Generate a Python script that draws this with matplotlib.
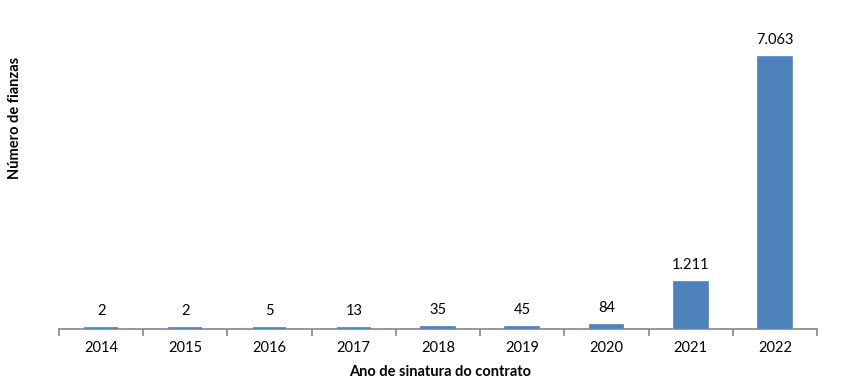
import matplotlib
matplotlib.use("Agg")
import matplotlib.pyplot as plt
import numpy as np

years = ["2014", "2015", "2016", "2017", "2018", "2019", "2020", "2021", "2022"]
values = [2, 2, 5, 13, 35, 45, 84, 1211, 7063]
value_labels = ["2", "2", "5", "13", "35", "45", "84", "1.211", "7.063"]

plt.rcParams['font.family'] = ['Lato', 'DejaVu Sans']

fig = plt.figure(figsize=(8.47, 3.84), dpi=100)
ax = fig.add_axes([59/847, 1-329/384, (817-59)/847, (329-21)/384])

x = np.arange(len(years))
bars = ax.bar(x, values, width=0.4, color="#4F81BD", edgecolor="#4F81BD",
              linewidth=1.2, zorder=3)
ax.set_xlim(-0.5, len(years)-0.5)
ax.set_ylim(-20, 8000)

for xi, v, lab in zip(x, values, value_labels):
    ax.annotate(lab, (xi, v), xytext=(0, 7), textcoords="offset points",
                ha="center", va="bottom", fontsize=10.5, color="#000000")

for s in ["top", "right", "left"]:
    ax.spines[s].set_visible(False)
ax.spines["bottom"].set_color("#868686")
ax.spines["bottom"].set_linewidth(1.2)
ax.spines["bottom"].set_zorder(2)
ax.set_yticks([])
ax.set_xticks(np.arange(len(years)+1) - 0.5, minor=False)
ax.set_xticklabels([])
ax.tick_params(axis="x", which="major", length=5, color="#868686", width=1.2)
ax.set_xticks(x, minor=True)
ax.set_xticklabels(years, minor=True)
ax.tick_params(axis="x", which="minor", length=0, pad=9, labelsize=10.5)

fig.text(440/847, 1-372/384, "Ano de sinatura do contrato", ha="center", va="center",
         fontsize=10.5, fontweight="bold")
fig.text(15/847, 1-118/384, "Número de fianzas", ha="center", va="center",
         rotation=90, fontsize=10.5, fontweight="bold")

fig.savefig("out.png", dpi=100)
